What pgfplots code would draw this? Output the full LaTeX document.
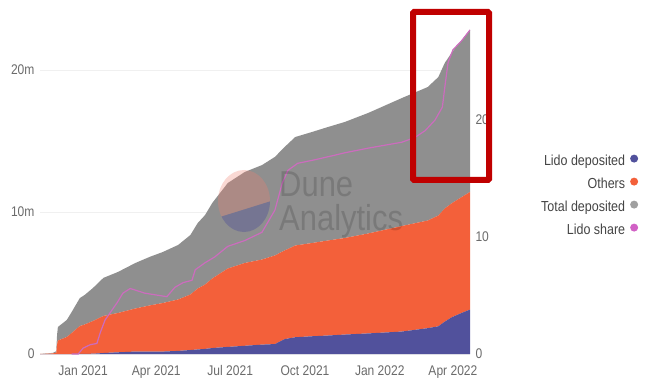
\documentclass[border=0pt]{standalone}
\usepackage{pgfplots}
\pgfplotsset{compat=1.18}
\usepackage{pgfplotstable}
\usepackage{fontspec}
\setmainfont{Liberation Sans}[FakeStretch=0.86]

\definecolor{lidoblue}{HTML}{51519C}
\definecolor{othersorange}{HTML}{F3603A}
\definecolor{totalgray}{HTML}{8F8F8F}
\definecolor{sharepink}{HTML}{CC6CBE}
\definecolor{tickgray}{HTML}{6B6B6B}
\definecolor{legendtext}{HTML}{444444}
\definecolor{gridgray}{HTML}{F0F0F0}
\definecolor{boxred}{HTML}{C00000}
\definecolor{logosalmon}{HTML}{F08070}
\definecolor{logoblue}{HTML}{3C3C9C}

% ETH deposited (millions), x = days since 1 Jan 2021
\pgfplotstableread{
day  lido   others total
-53  0.00   0.00   0.00
-37  0.00   0.04   0.04
-33  0.00   0.10   0.10
-32  0.00   0.67   0.67
-31  0.00   0.95   0.95
-20  0.00   1.20   1.20
-14  0.00   1.48   1.48
-4   0.005  1.965  1.97
2    0.01   2.07   2.08
12   0.02   2.30   2.32
25   0.07   2.61   2.68
43   0.12   2.77   2.89
64   0.17   3.03   3.20
82   0.17   3.25   3.42
98   0.17   3.42   3.59
117  0.22   3.62   3.84
132  0.28   3.91   4.19
141  0.32   4.29   4.61
150  0.36   4.53   4.89
159  0.42   4.90   5.32
178  0.50   5.52   6.02
199  0.58   5.83   6.41
220  0.66   5.99   6.65
236  0.70   6.24   6.94
248  1.05   6.24   7.29
261  1.18   6.46   7.64
282  1.25   6.57   7.82
301  1.30   6.69   7.99
322  1.37   6.80   8.17
351  1.45   7.04   8.49
392  1.58   7.43   9.01
424  1.82   7.58   9.40
437  1.95   7.80   9.75
445  2.28   7.97   10.25
454  2.60   8.03   10.63
466  2.90   8.16   11.06
476  3.13   8.28   11.41
}\deposits

% Lido share of all deposits (%)
\pgfplotstableread{
day share
-14 0.0
-6  0.0
0   0.5
9   0.8
17  0.9
21  1.8
27  2.9
33  3.5
42  4.4
49  5.2
58  5.6
76  5.2
103 4.9
113 5.7
123 6.1
134 6.3
138 7.2
150 7.8
162 8.3
178 9.2
199 9.7
220 10.4
236 12.3
245 14.6
252 15.7
264 16.3
285 16.6
310 17.0
322 17.2
351 17.6
392 18.1
408 18.5
421 19.1
433 20.0
442 21.1
445 22.8
449 24.9
455 26.0
466 26.8
476 27.7
}\share

\pgfplotsset{
  common/.style={
    at={(40pt,27pt)}, anchor=south west,
    scale only axis, width=430pt, height=334pt,
    xmin=-53, xmax=476,
    axis line style={draw=none},
    major tick length=0pt,
    tick label style={font=\fontsize{14}{16}\selectfont, text=tickgray},
  },
}

\begin{document}
\begin{tikzpicture}[x=1pt,y=1pt]
\useasboundingbox (0,0) rectangle (646,381);

\begin{axis}[common,
  ymin=0, ymax=23.52,
  ytick={0,10,20}, yticklabels={0,10m,20m},
  yticklabel style={xshift=-2pt},
  ymajorgrids, grid style={color=gridgray, line width=0.7pt},
  xtick={0,90,181,273,365,455},
  xticklabels={Jan 2021,Apr 2021,Jul 2021,Oct 2021,Jan 2022,Apr 2022},
  xticklabel style={yshift=-8pt},
  stack plots=y,
]
\addplot[fill=lidoblue, draw=none] table[x=day, y=lido] {\deposits} \closedcycle;
\addplot[fill=othersorange, draw=none] table[x=day, y=others] {\deposits} \closedcycle;
\addplot[fill=totalgray, draw=none] table[x=day, y=total] {\deposits} \closedcycle;
\end{axis}

\begin{axis}[common,
  ymin=0, ymax=28.55,
  axis y line*=right, axis x line=none,
  ytick={0,10,20}, yticklabels={0,10,20},
  yticklabel style={anchor=west, xshift=2pt},
  legend style={at={(axis description cs:1.391,0.597)}, anchor=north east,
    draw=none, fill=none, inner sep=0pt, outer sep=0pt,
    font=\fontsize{14.5}{16}\selectfont, text=legendtext,
    nodes={inner sep=0pt, text height=10pt, text depth=3pt},
    row sep=9pt, column sep=5pt},
  legend cell align=right,
  legend plot pos=right,
  legend image code/.code={\fill[#1] (4pt,3.5pt) circle (4pt);},
]
\addlegendimage{fill=lidoblue, draw=none}
\addlegendentry{Lido deposited}
\addlegendimage{fill=othersorange, draw=none}
\addlegendentry{Others}
\addlegendimage{fill=totalgray!85, draw=none}
\addlegendentry{Total deposited}
\addplot[color=sharepink, line width=1.2pt, forget plot] table[x=day, y=share] {\share};
\addlegendimage{fill=sharepink!90!magenta, draw=none}
\addlegendentry{Lido share}
\end{axis}

% watermark
\begin{scope}
  \clip (244,180) ellipse [x radius=26, y radius=31];
  \fill[logosalmon, opacity=0.3] (210,160.9) -- (280,182.75) -- (280,220) -- (210,220) -- cycle;
  \fill[logoblue, opacity=0.3] (210,160.9) -- (280,182.75) -- (280,140) -- (210,140) -- cycle;
\end{scope}
\node[anchor=base west, inner sep=0pt, text=black, text opacity=0.15,
  font=\fontsize{36}{36}\selectfont] at (279,184) {Dune};
\node[anchor=base west, inner sep=0pt, text=black, text opacity=0.15,
  font=\fontsize{36}{36}\selectfont] at (279,151) {Analytics};

% highlight frame
\draw[boxred, line width=6pt, rounded corners=1pt] (413,201) rectangle (489,369);
\end{tikzpicture}
\end{document}
